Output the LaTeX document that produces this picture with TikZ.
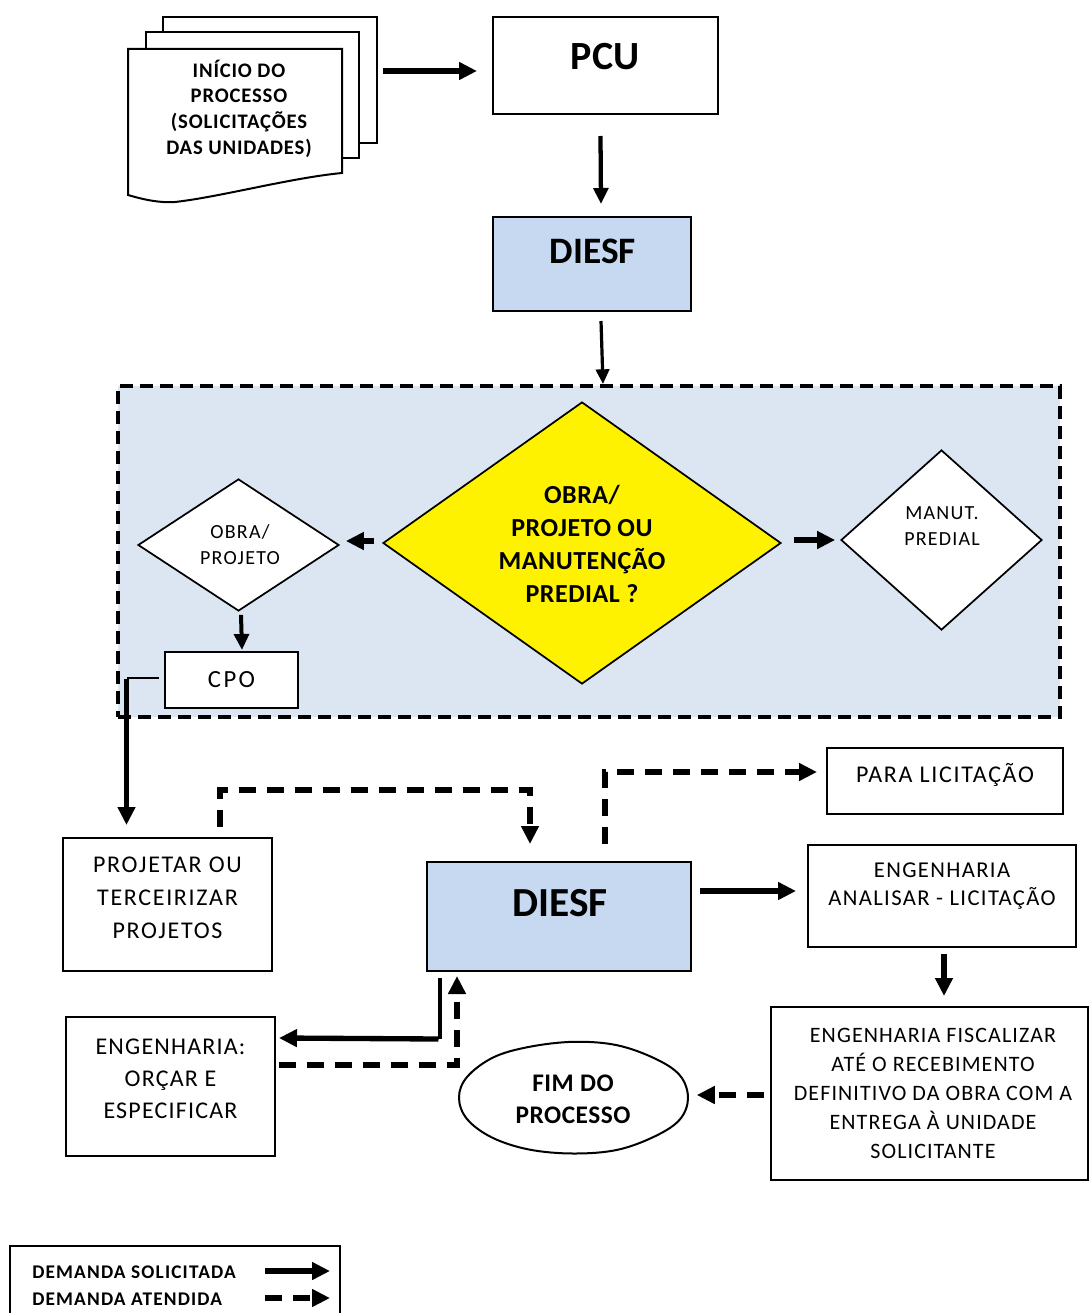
\documentclass[tikz,border=0pt]{standalone}
\usepackage{fontspec}
\setmainfont{Carlito}
\usetikzlibrary{arrows.meta,shapes.geometric,calc}

\definecolor{boxblue}{HTML}{C6D9F1}
\definecolor{zoneblue}{HTML}{DCE6F2}

% slightly opened tracking, as in the printed labels
\newcommand\wideset[1]{\addfontfeature{LetterSpace=#1}}

\tikzset{
  box/.style={draw, line width=1.5pt, fill=white, inner sep=0pt, rectangle},
  sheet/.style={draw, line width=1.5pt, fill=white},
  choice/.style={draw, line width=1.3pt, fill=white, diamond, inner sep=0pt, aspect=1},
  txt/.style={align=center, inner sep=0pt},
  tipA/.style={-{Triangle[length=13.5pt,width=12.75pt]}},
  solidarrow/.style={line width=4pt, tipA},
  thinarrow/.style={line width=3pt, -{Triangle[length=12pt,width=11pt]}},
  dasharrow/.style={line width=4pt, dash pattern=on 12.75pt off 8.25pt, tipA},
}

\begin{document}
\begin{tikzpicture}[x=0.75pt,y=-0.75pt]
\path[use as bounding box] (0,0) rectangle (1089,1313);

% ---------- stacked documents: start of the process ----------
\node[box, minimum width=160.5pt, minimum height=94.5pt] (sheetC) at (270,80) {};
\node[box, minimum width=159.75pt, minimum height=94.5pt] (sheetB) at (252.5,95) {};
\draw[sheet] (128,49) -- (342,49) -- (342,173)
  .. controls (290,178) and (220,197) .. (175,202)
  .. controls (160,203) and (145,200) .. (128,195) -- cycle;
\node[txt, font=\bfseries\fontsize{15.5}{19.3}\selectfont\wideset{4}] (start) at (239,108.5)
  {INÍCIO DO\\PROCESSO\\(SOLICITAÇÕES\\DAS UNIDADES)};

% ---------- PCU and first DIESF ----------
\node[box, minimum width=168.75pt, minimum height=72.75pt] (pcu) at (605.5,65.5) {};
\node[txt, font=\bfseries\fontsize{30}{36}\selectfont] (pcut) at (605,57) {PCU};

\node[box, fill=boxblue, minimum width=148.5pt, minimum height=70.5pt] (diesfA) at (592,264) {};
\node[txt, font=\bfseries\fontsize{28}{34}\selectfont] (diesfAt) at (593,251) {DIESF};

% ---------- decision zone ----------
\node[draw, fill=zoneblue, line width=3pt, dash pattern=on 10pt off 5pt,
      rectangle, inner sep=0pt, minimum width=706.5pt, minimum height=248.25pt] (zone) at (589,551.5) {};

\node[choice, fill=yellow, minimum width=298.5pt, minimum height=211.5pt] (main) at (582,543) {};
\node[txt, font=\bfseries\fontsize{19.5}{24.75}\selectfont\wideset{2}] (maint) at (582,544)
  {OBRA/\\PROJETO OU\\MANUTENÇÃO\\PREDIAL ?};

\node[choice, minimum width=150.75pt, minimum height=99pt] (obra) at (238.5,545) {};
\node[txt, font=\fontsize{15}{19.5}\selectfont\wideset{6}] (obrat) at (240,545) {OBRA/\\PROJETO};

\node[choice, minimum width=150.75pt, minimum height=135pt] (manut) at (941.5,540) {};
\node[txt, font=\fontsize{15}{19.5}\selectfont\wideset{6}] (manutt) at (942,526) {MANUT.\\PREDIAL};

\node[box, minimum width=99.75pt, minimum height=42pt,
      font=\fontsize{18.5}{21}\selectfont\wideset{10}] (cpo) at (231.5,680) {CPO};

% ---------- lower flow ----------
\node[box, minimum width=156.75pt, minimum height=99.75pt] (proj) at (167.5,904.5) {};
\node[txt, font=\fontsize{18}{24.75}\selectfont\wideset{7}] (projt) at (167.5,898)
  {PROJETAR OU\\TERCEIRIZAR\\PROJETOS};

\node[box, fill=boxblue, minimum width=198pt, minimum height=81.75pt] (diesfB) at (559,916.5) {};
\node[txt, font=\bfseries\fontsize{31}{37}\selectfont] (diesfBt) at (560,903) {DIESF};

\node[box, minimum width=177pt, minimum height=49.5pt] (lic) at (945,781) {};
\node[txt, font=\fontsize{18}{22}\selectfont\wideset{7}] (lict) at (945,775) {PARA LICITAÇÃO};

\node[box, minimum width=201pt, minimum height=76.5pt] (anal) at (942,896) {};
\node[txt, font=\fontsize{17}{21}\selectfont\wideset{6}] (analt) at (942,886)
  {ENGENHARIA\\ANALISAR - LICITAÇÃO};

\node[box, minimum width=237.75pt, minimum height=129.75pt] (fisc) at (929.5,1093.5) {};
\node[txt, font=\fontsize{16.5}{21.75}\selectfont\wideset{5}] (fisct) at (933,1093)
  {ENGENHARIA FISCALIZAR\\ATÉ O RECEBIMENTO\\DEFINITIVO DA OBRA COM A\\ENTREGA À UNIDADE\\SOLICITANTE};

% end of process: a hand-drawn looking ellipse
\node[ellipse, inner sep=0pt, minimum width=171.75pt, minimum height=83.25pt] (fim) at (573.5,1097.5) {};
\draw[line width=1.5pt, fill=white] plot[smooth cycle, tension=0.6] coordinates {
  (688,1098) (679.8,1119.5) (655.5,1136) (617.5,1149.8) (573.5,1153.5)
  (529,1149.5) (492,1137.5) (467,1119) (459,1097.5) (467.2,1076.8)
  (493.5,1057.3) (529.5,1046.8) (574,1041.8) (617,1045.2) (655.5,1058.8) (680,1075.5)};
\node[txt, font=\bfseries\fontsize{19}{24}\selectfont\wideset{2}] (fimt) at (573,1099) {FIM DO\\PROCESSO};

\node[box, minimum width=156.75pt, minimum height=104.25pt] (orc) at (170.5,1086.5) {};
\node[txt, font=\fontsize{18}{24}\selectfont\wideset{5}] (orct) at (170.5,1079)
  {ENGENHARIA:\\ORÇAR E\\ESPECIFICAR};

% ---------- connectors ----------
\draw[solidarrow] ($(sheetC.east)+(5,-9)$) -- ($(pcu.west)+(-15,5.5)$);
\draw[thinarrow, line width=3.2pt] ($(pcu.south)+(-5,21)$) -- ($(diesfA.north)+(9,-12)$);
\draw[thinarrow, line width=2.4pt, -{Triangle[length=11pt,width=10pt]}] ($(diesfA.south)+(9,9)$) -- ($(zone.north)+(14,0)$);

\draw[solidarrow] ($(main.west)+(-8,-2)$) -- ($(obra.east)+(6,-4)$);
\draw[solidarrow] ($(main.east)+(12,-3)$) -- ($(manut.west)+(-5,0)$);
\draw[thinarrow] ($(obra.south)+(2.5,3)$) -- ($(cpo.north)+(10.5,-1)$);

\coordinate (cpoturn) at ($(cpo.west)+(-37.5,-2)$);
\draw[line width=1.5pt] ($(cpo.west)+(-5,-2)$) -- (cpoturn);
\draw[solidarrow, line width=3.5pt] ([yshift=-1pt]cpoturn) -- ($(cpoturn |- proj.north)+(0,-12)$);

\draw[dasharrow] ($(proj.north)+(52.5,-10)$) |- ($(diesfB.north)+(-29,-71)$) -- ($(diesfB.north)+(-29,-17)$);
\draw[dasharrow] ($(diesfB.north)+(46,-17)$) |- ($(lic.west)+(-9,-9)$);
\draw[solidarrow] ($(diesfB.east)+(8,-25.5)$) -- ($(anal.west)+(-11,-5)$);
\draw[solidarrow] ($(anal.south)+(2,6)$) -- ($(fisc.north)+(14.5,-10)$);
\draw[dasharrow] ($(fisc.west)+(-6,1.5)$) -- ($(fim.east)+(8.5,-2.5)$);

\draw[line width=2.6pt] ($(diesfB.south)+(-119,6)$) -- ($(diesfB.south)+(-119,67)$);
\draw[solidarrow] ($(diesfB.south)+(-120.5,67)$) -- ($(orc.east)+(3,-48.5)$);
\draw[dasharrow] ($(orc.east)+(3,-21.5)$) -| ($(diesfB.south)+(-102,4)$);

% ---------- legend ----------
\draw[line width=1.5pt] (10,1330) |- (340,1246) -- (340,1330);
\node[txt, anchor=west, font=\bfseries\fontsize{14.5}{20}\selectfont\wideset{6}] (leg1) at (32,1272) {DEMANDA SOLICITADA};
\node[txt, anchor=west, font=\bfseries\fontsize{14.5}{20}\selectfont\wideset{6}] (leg2) at (32,1299) {DEMANDA ATENDIDA};
\coordinate (l1a) at (265,1271);
\coordinate (l1b) at (330,1271);
\coordinate (l2a) at (265,1298);
\coordinate (l2b) at (330,1298);
\draw[solidarrow] (l1a) -- (l1b);
\draw[dasharrow] (l2a) -- (l2b);
\end{tikzpicture}
\end{document}
